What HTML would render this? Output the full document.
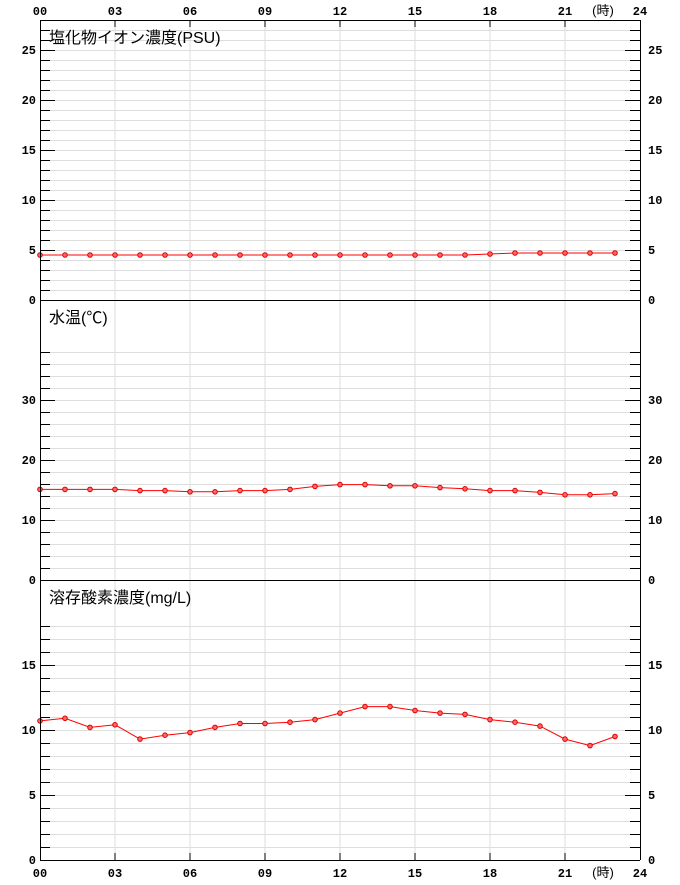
<!DOCTYPE html>
<html><head><meta charset="utf-8"><style>
html,body{margin:0;padding:0;background:#fff;}
svg text{font-family:"Liberation Mono","DejaVu Sans Mono",monospace;font-weight:bold;font-size:12px;fill:#000;}
svg text.t{font-family:"Liberation Sans","Noto Sans CJK JP",sans-serif;font-weight:normal;font-size:16px;}
</style></head><body>
<svg id="s" width="680" height="880" xmlns="http://www.w3.org/2000/svg"></svg>
<script>
const s=document.getElementById('s');let h='';
const X=v=>40+25*v;
const panels=[
 {top:20,bot:300,ppu:10,grid:1,major:5,max:28,lab:[0,5,10,15,20,25],title:'塩化物イオン濃度(PSU)',
  d:[4.5,4.5,4.5,4.5,4.5,4.5,4.5,4.5,4.5,4.5,4.5,4.5,4.5,4.5,4.5,4.5,4.5,4.5,4.6,4.7,4.7,4.7,4.7,4.7]},
 {top:300,bot:580,ppu:6,grid:2,major:10,max:38,lab:[0,10,20,30],title:'水温(℃)',
  d:[15.1,15.1,15.1,15.1,14.9,14.9,14.7,14.7,14.9,14.9,15.1,15.6,15.9,15.9,15.7,15.7,15.4,15.2,14.9,14.9,14.6,14.2,14.2,14.4]},
 {top:580,bot:860,ppu:13,grid:1,major:5,max:18,lab:[0,5,10,15],title:'溶存酸素濃度(mg/L)',
  d:[10.7,10.9,10.2,10.4,9.3,9.6,9.8,10.2,10.5,10.5,10.6,10.8,11.3,11.8,11.8,11.5,11.3,11.2,10.8,10.6,10.3,9.3,8.8,9.5]}
];
for(let t=3;t<24;t+=3) h+=`<line x1="${X(t)}" y1="20" x2="${X(t)}" y2="860" stroke="#ddd"/>`;
panels.forEach(p=>{
 for(let v=p.grid;v<=p.max;v+=p.grid){const y=p.bot-v*p.ppu+0.5;
  h+=`<line x1="40" y1="${y}" x2="640" y2="${y}" stroke="#ddd"/>`;
  const L=(v%p.major===0)?15:10;
  h+=`<line x1="40" y1="${y}" x2="${40+L}" y2="${y}" stroke="#000"/>`;
  h+=`<line x1="${640-L}" y1="${y}" x2="640" y2="${y}" stroke="#000"/>`;}
 p.lab.forEach(v=>{const y=p.bot-v*p.ppu+4;
  h+=`<text x="36" y="${y}" text-anchor="end">${v}</text><text x="648" y="${y}">${v}</text>`;});
 h+=`<line x1="40" y1="${p.bot+0.5}" x2="640" y2="${p.bot+0.5}" stroke="#000"/>`;
 h+=`<text class="t" x="49" y="${p.top+23}">${p.title}</text>`;
 let pts=p.d.map((v,i)=>`${X(i)},${(p.bot-v*p.ppu).toFixed(1)}`).join(' ');
 h+=`<polyline points="${pts}" fill="none" stroke="#f00" stroke-width="1"/>`;
 p.d.forEach((v,i)=>{h+=`<circle cx="${X(i)}" cy="${(p.bot-v*p.ppu).toFixed(1)}" r="2.3" fill="#f66" stroke="#d00" stroke-width="1"/>`;});
});
h+=`<line x1="40.5" y1="20" x2="40.5" y2="860" stroke="#000"/><line x1="640.5" y1="20" x2="640.5" y2="860" stroke="#000"/><line x1="40" y1="20.5" x2="640" y2="20.5" stroke="#000"/>`;
for(let t=0;t<=24;t+=3){
 if(t>0&&t<24){h+=`<line x1="${X(t)}" y1="20" x2="${X(t)}" y2="27" stroke="#000"/><line x1="${X(t)}" y1="853" x2="${X(t)}" y2="860" stroke="#000"/>`;}
 const lab=String(t).padStart(2,'0');
 h+=`<text x="${X(t)}" y="15" text-anchor="middle">${lab}</text><text x="${X(t)}" y="877" text-anchor="middle">${lab}</text>`;
}
h+=`<text class="t" x="603" y="15" text-anchor="middle" style="font-size:13px">(時)</text><text class="t" x="603" y="877" text-anchor="middle" style="font-size:13px">(時)</text>`;
s.innerHTML=h;
</script>
</body></html>
